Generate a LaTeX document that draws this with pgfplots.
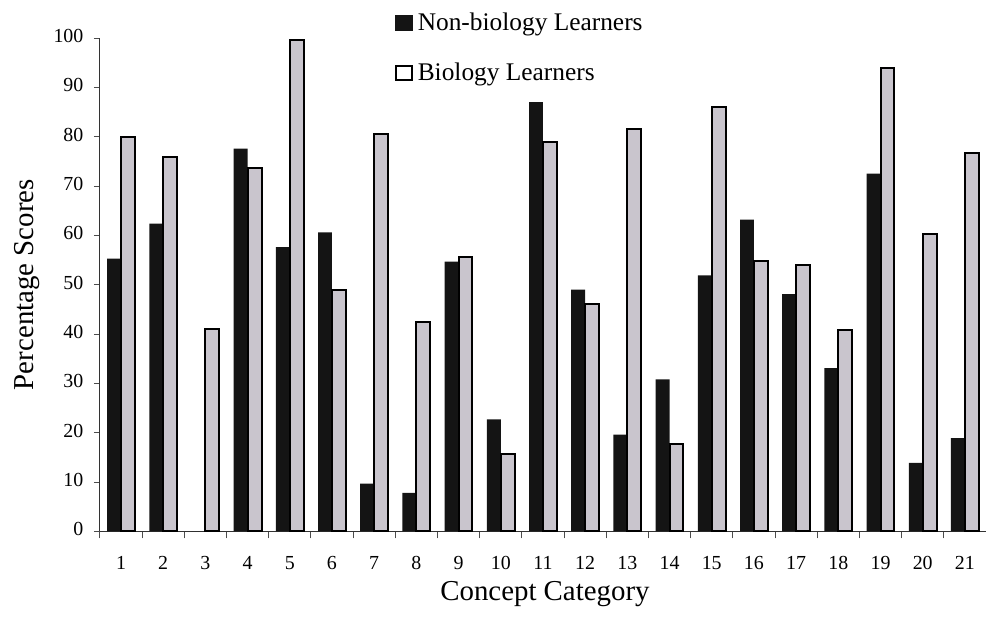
\documentclass[border=0pt]{standalone}
\usepackage{pgfplots}
\pgfplotsset{compat=1.18}
\usepackage{fontspec}
\setmainfont{Liberation Serif}
\definecolor{biogrey}{HTML}{C9C5CD}
\definecolor{nonbio}{HTML}{141414}
\begin{document}
\begin{tikzpicture}
\begin{axis}[
  scale only axis, width=887bp, height=494bp,
  xmin=0.5, xmax=21.5, ymin=0, ymax=100,
  ybar=0pt, bar width=0.33,
  axis x line*=bottom, axis y line*=left,
  axis line style={line width=1pt, color=black!80},
  ytick={0,10,...,100},
  xtick={1,...,21},
  minor xtick={0.5,1.5,...,21.5},
  major x tick style={draw=none},
  minor x tick style={line width=0.8pt, black!70},
  major y tick style={line width=0.8pt, black!70},
  major tick length=6bp, minor tick length=7bp,
  tick align=outside,
  /pgf/number format/assume math mode=true,
  typeset ticklabels with strut,
  ticklabel style={font=\fontsize{20}{22}\selectfont},
  xticklabel style={yshift=-13bp},
  yticklabel style={xshift=-7bp},
  label style={font=\fontsize{29}{32}\selectfont},
  xlabel={Concept Category},
  ylabel={Percentage Scores},
  xlabel style={at={(axis description cs:0.5,0)}, anchor=base, xshift=2bp, yshift=-69bp},
  ylabel style={at={(axis description cs:0,0.5)}, anchor=base, yshift=66bp},
  legend style={at={(axis description cs:0.3326,1)}, anchor=north west, yshift=27bp,
    draw=none, fill=none,
    font=\fontsize{25.5}{28}\selectfont, row sep=27bp, inner sep=0pt},
  legend cell align=left,
]
\addplot[fill=nonbio, draw=none,
  legend image code/.code={\fill[nonbio] (0bp,-8bp) rectangle (18bp,8bp); \path[draw=none,fill=none] (0bp,0bp) -- (21bp,0bp);}]
  coordinates {(1,55.3) (2,62.4) (3,0) (4,77.6) (5,57.6) (6,60.6) (7,9.7) (8,7.8) (9,54.7) (10,22.7) (11,87.0) (12,49.0) (13,19.6) (14,30.8) (15,51.9) (16,63.2) (17,48.1) (18,33.1) (19,72.5) (20,13.9) (21,18.9)};
\addlegendentry{Non-biology Learners}
\addplot[fill=biogrey, draw=black, line width=2pt,
  legend image code/.code={\draw[black, line width=2pt, fill=white] (1bp,-7bp) rectangle (17bp,7bp); \path[draw=none,fill=none] (0bp,0bp) -- (21bp,0bp);}]
  coordinates {(1,79.9) (2,75.9) (3,41.1) (4,73.6) (5,99.6) (6,49.0) (7,80.6) (8,42.5) (9,55.6) (10,15.7) (11,78.9) (12,46.0) (13,81.6) (14,17.8) (15,86.0) (16,54.9) (17,53.9) (18,40.8) (19,94.0) (20,60.3) (21,76.7)};
\addlegendentry{Biology Learners}
\end{axis}
\pgfresetboundingbox
\path (current axis.north west) ++(-100bp,38bp);
\path (current axis.south east) ++(0bp,-87bp);
\end{tikzpicture}
\end{document}
